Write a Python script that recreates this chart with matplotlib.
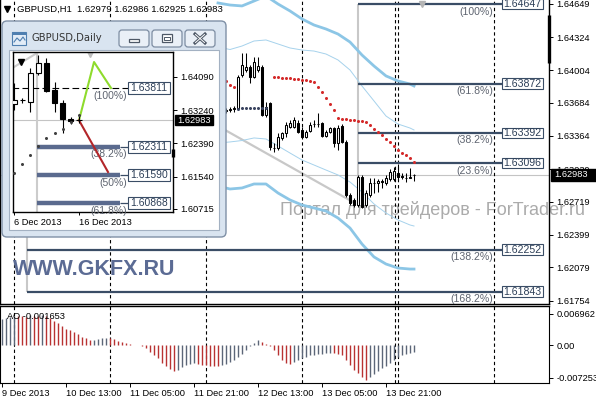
import matplotlib
matplotlib.use("Agg")
import matplotlib.pyplot as plt
import matplotlib.transforms as mtransforms
from matplotlib.patches import Rectangle, FancyBboxPatch
from matplotlib.lines import Line2D

plt.rcParams["font.family"] = ["Liberation Sans", "DejaVu Sans"]

# ---------------- GBPUSD H1 candles (bar index 56..103) ----------------
h1_first = 56
h1_open = [1.63606, 1.63618, 1.63628, 1.63631, 1.63956, 1.64005, 1.64037, 1.63934, 1.64005, 1.64037,
           1.63566, 1.63680, 1.63241, 1.63241, 1.63339, 1.63387, 1.63446, 1.63452, 1.63491, 1.63420,
           1.63348, 1.63413, 1.63474, 1.63482, 1.63491, 1.63361, 1.63403, 1.63436, 1.63290, 1.63459,
           1.63305, 1.62785, 1.62737, 1.62688, 1.62964, 1.62688, 1.62785, 1.62900, 1.62900, 1.62919,
           1.62900, 1.62939, 1.62939, 1.63003, 1.62971, 1.62955, 1.62950, 1.62979]
h1_high = [1.63631, 1.63644, 1.63654, 1.63956, 1.64168, 1.64168, 1.64054, 1.64135, 1.64135, 1.64054,
           1.63696, 1.63696, 1.63290, 1.63387, 1.63403, 1.63501, 1.63517, 1.63549, 1.63517, 1.63452,
           1.63420, 1.63501, 1.63517, 1.63583, 1.63501, 1.63420, 1.63452, 1.63452, 1.63468, 1.63478,
           1.63322, 1.62805, 1.62756, 1.62980, 1.62980, 1.62834, 1.62948, 1.62948, 1.62939, 1.62939,
           1.62980, 1.63036, 1.63062, 1.63088, 1.62997, 1.62997, 1.63046, 1.62986]
h1_low = [1.63583, 1.63595, 1.63598, 1.63615, 1.63940, 1.63988, 1.63875, 1.63924, 1.63988, 1.63556,
          1.63549, 1.63224, 1.63208, 1.63224, 1.63322, 1.63354, 1.63436, 1.63436, 1.63387, 1.63339,
          1.63339, 1.63403, 1.63452, 1.63452, 1.63348, 1.63348, 1.63395, 1.63257, 1.63224, 1.63290,
          1.62769, 1.62688, 1.62668, 1.62668, 1.62659, 1.62668, 1.62769, 1.62802, 1.62817, 1.62854,
          1.62883, 1.62925, 1.62925, 1.62932, 1.62939, 1.62915, 1.62948, 1.62925]
h1_close = [1.63610, 1.63622, 1.63633, 1.63940, 1.64054, 1.64037, 1.63934, 1.64086, 1.64044, 1.63566,
            1.63647, 1.63257, 1.63245, 1.63354, 1.63387, 1.63468, 1.63485, 1.63517, 1.63403, 1.63354,
            1.63403, 1.63468, 1.63482, 1.63476, 1.63361, 1.63403, 1.63436, 1.63290, 1.63436, 1.63305,
            1.62785, 1.62704, 1.62688, 1.62964, 1.62668, 1.62802, 1.62900, 1.62906, 1.62925, 1.62915,
            1.62948, 1.63013, 1.63023, 1.62964, 1.62965, 1.62948, 1.62960, 1.62983]
last_bid = 1.62983

# Parabolic SAR dots
sar_above_idx = [56, 57, 58] + list(range(68, 104))
sar_above = [1.63900, 1.63859, 1.63836,
             1.63934, 1.63932, 1.63929, 1.63926, 1.63923, 1.63919, 1.63915, 1.63910, 1.63905, 1.63898, 1.63888,
             1.63839, 1.63786, 1.63732, 1.63673, 1.63615,
             1.63534, 1.63529, 1.63525, 1.63520, 1.63515, 1.63510, 1.63505, 1.63500,
             1.63468, 1.63434, 1.63400, 1.63366, 1.63332, 1.63298, 1.63264, 1.63229, 1.63200, 1.63171,
             1.63142, 1.63110]
sar_below_idx = list(range(59, 67))
sar_below = [1.63628, 1.63630, 1.63631, 1.63631, 1.63632, 1.63633, 1.63633, 1.63634]

# channel bands
band_idx = [54, 57, 60, 63, 66, 69, 72, 75, 78, 81, 84, 87, 90, 93, 96, 99, 102, 103]
band_outer_hi = [1.64659, 1.64639, 1.64630, 1.64678, 1.64727, 1.64649, 1.64581, 1.64503, 1.64444,
                 1.64405, 1.64356, 1.64278, 1.64151, 1.64044, 1.63947, 1.63898, 1.63868, 1.63849]
band_inner_hi = [1.64229, 1.64205, 1.64239, 1.64288, 1.64298, 1.64259, 1.64220, 1.64200, 1.64190,
                 1.64161, 1.64103, 1.64005, 1.63849, 1.63703, 1.63556, 1.63478, 1.63439, 1.63420]
band_inner_lo = [1.63293, 1.63303, 1.63317, 1.63342, 1.63332, 1.63264, 1.63195, 1.63127, 1.63078,
                 1.63029, 1.62981, 1.62912, 1.62815, 1.62698, 1.62610, 1.62542, 1.62493, 1.62483]
band_outer_lo = [1.62873, 1.62844, 1.62854, 1.62893, 1.62893, 1.62805, 1.62737, 1.62688, 1.62659,
                 1.62629, 1.62561, 1.62463, 1.62307, 1.62181, 1.62112, 1.62073, 1.62063, 1.62063]

trend_x = [45, 87.75]
trend_y = [1.63656, 1.62717]

# Fibonacci levels on H1
fib_upper = [1.64647, 1.63872, 1.63392, 1.63096]
fib_upper_pct = ["(100%)", "(61.8%)", "(38.2%)", "(23.6%)"]
fib_lower = [1.62252, 1.61843]
fib_lower_pct = ["(138.2%)", "(168.2%)"]
fib_upper_start, fib_lower_start, fib_end = 89, 6.25, 125

separators = [3, 27, 51, 75, 98.2, 99.1, 123]

main_ticks = [1.64649, 1.64324, 1.64004, 1.63684, 1.63364, 1.63039, 1.62719, 1.62399, 1.62079, 1.61754]
time_pos = [0, 16, 32, 48, 64, 80, 96]
time_labels = ["9 Dec 2013", "10 Dec 13:00", "11 Dec 05:00", "11 Dec 21:00",
               "12 Dec 13:00", "13 Dec 05:00", "13 Dec 21:00"]

# Awesome Oscillator
ao = [0.00585, 0.00593, 0.00615, 0.00652, 0.00645, 0.00637, 0.00630, 0.00659, 0.00652, 0.00645,
      0.00659, 0.00645, 0.00593, 0.00541, 0.00482, 0.00422, 0.00363, 0.00341, 0.00296, 0.00237,
      0.00185, 0.00148, 0.00104, 0.00111, 0.00126, 0.00148, 0.00163, 0.00148, 0.00126, 0.00096,
      0.00074, 0.00044, 0.00022, 0.00007, -0.00004, -0.00015, -0.00074, -0.00148, -0.00222, -0.00296,
      -0.00393, -0.00474, -0.00526, -0.00571, -0.00556, -0.00496, -0.00452, -0.00422, -0.00408, -0.00422,
      -0.00437, -0.00452, -0.00459, -0.00467, -0.00474, -0.00452, -0.00422, -0.00378, -0.00333, -0.00267,
      -0.00193, -0.00111, -0.00030, 0.00044, 0.00104, 0.00074, 0.00030, -0.00022, -0.00111, -0.00222,
      -0.00326, -0.00408, -0.00422, -0.00378, -0.00333, -0.00296, -0.00259, -0.00230, -0.00215, -0.00200,
      -0.00193, -0.00185, -0.00170, -0.00185, -0.00207, -0.00230, -0.00333, -0.00445, -0.00548, -0.00630,
      -0.00711, -0.00778, -0.00719, -0.00645, -0.00578, -0.00519, -0.00459, -0.00400, -0.00333, -0.00274,
      -0.00230, -0.00200, -0.00185, -0.001653]
ao_ticks = [0.006962, 0.0, -0.007253]
ao_tick_labels = ["0.006962", "0.00", "-0.007253"]

# ---------------- GBPUSD Daily (inset window) ----------------
d1_open = [1.63399, 1.63490, 1.63451, 1.64192, 1.64448, 1.63757, 1.63425, 1.63016, 1.62979]
d1_high = [1.63936, 1.63553, 1.64320, 1.64652, 1.64576, 1.63962, 1.63502, 1.63067, 1.63118]
d1_low = [1.63246, 1.63425, 1.63195, 1.64141, 1.63706, 1.63195, 1.62658, 1.62888, 1.62925]
d1_close = [1.63502, 1.63495, 1.64192, 1.64448, 1.63732, 1.63425, 1.63016, 1.62965, 1.62983]
d1_sar = [1.61643, 1.61865, 1.62095, 1.62313, 1.62538, 1.62650, 1.62752, 1.62939, 1.63118]
d1_ticks = [1.64090, 1.63240, 1.62390, 1.61540, 1.60715]
d1_dates = ["6 Dec 2013", "16 Dec 2013"]
d1_date_pos = [0, 8]
d1_fib_top = 1.63811
d1_fib_levels = [1.62311, 1.61590, 1.60868]
d1_fib_pct = ["(38.2%)", "(50%)", "(61.8%)"]
d1_fib_start, d1_fib_end = 2.83, 13.05
d1_up_path_x = [8, 9.85, 11.94]
d1_up_path_y = [1.62983, 1.64473, 1.63808]
d1_dn_path_x = [8, 11.57]
d1_dn_path_y = [1.62983, 1.61661]
d1_gray_x = [0, 2.83]
d1_gray_y = [1.64345, 1.64703]

# ---------------- figure ----------------
W, H = 596, 400
fig = plt.figure(figsize=(W / 100, H / 100), dpi=100)
fig.patch.set_facecolor("white")
SCREEN = mtransforms.IdentityTransform()

FIB_C = "#3a4d66"
PCT_C = "#5e6470"
FS = 6.7


def frac_rect(x0, y0, x1, y1):
    return [x0 / W, 1 - y1 / H, (x1 - x0) / W, (y1 - y0) / H]


def scr_box(x0, y0, x1, y1, r=0, z=8, **kw):
    p = FancyBboxPatch((x0, H - y1), x1 - x0, y1 - y0,
                       boxstyle=f"round,pad=0,rounding_size={r}" if r else "square,pad=0",
                       transform=SCREEN, zorder=z, **kw)
    fig.add_artist(p)
    return p


def scr_line(xs, ys, z=9, **kw):
    ln = Line2D(xs, [H - y for y in ys], transform=SCREEN, zorder=z, **kw)
    fig.add_artist(ln)


def candles(ax, xs, o, h, l, c, width, lw, z=4):
    for x, oo, hh, ll, cc in zip(xs, o, h, l, c):
        ax.vlines(x, ll, hh, color="black", lw=lw, zorder=z)
        lo, hi = min(oo, cc), max(oo, cc)
        face = "white" if cc >= oo else "black"
        ax.add_patch(Rectangle((x - width / 2, lo), width, hi - lo, facecolor=face,
                               edgecolor="black", lw=lw, zorder=z + 0.5))


def value_box(ax, x0, x1, y, half_h, text, fs, z=7):
    ax.add_patch(Rectangle((x0, y - half_h), x1 - x0, 2 * half_h, facecolor="white",
                           edgecolor=FIB_C, lw=0.8, zorder=z, clip_on=False))
    ax.text((x0 + x1) / 2, y, text, ha="center", va="center", fontsize=fs,
            color="#2c3e57", zorder=z + 0.1, clip_on=False)


# ---------------- main H1 panel ----------------
ax = fig.add_axes(frac_rect(0, 0, 549, 304))
ax.set_xlim(-0.5, 136.75)
ax.set_ylim(1.61722, 1.64688)
ax.spines["top"].set_visible(False)
for s in ("left", "right", "bottom"):
    ax.spines[s].set_linewidth(1.0)
ax.yaxis.tick_right()
ax.set_yticks(main_ticks)
ax.set_yticklabels([f"{v:.5f}" for v in main_ticks])
ax.tick_params(axis="y", direction="out", length=3, width=0.7, pad=2.5, labelsize=FS)
ax.set_xticks([])

ax.text(280 / 549, 1.64688 - 215 / 10249, "Портал для трейдеров - ForTrader.ru",
        transform=mtransforms.blended_transform_factory(ax.transAxes, ax.transData),
        fontsize=13, color="#ababab", ha="left", va="baseline", zorder=1, clip_on=False)

for s in separators:
    ax.axvline(s, color="black", lw=0.8, ls=(0, (3, 2.5)), zorder=2)
ax.axhline(last_bid, color="#c4c4c4", lw=0.8, zorder=1.5)

ax.plot(band_idx, band_outer_hi, color="#8cc6e6", lw=2.0, zorder=2)
ax.plot(band_idx, band_outer_lo, color="#8cc6e6", lw=2.0, zorder=2)
ax.plot(band_idx, band_inner_hi, color="#a6d2ec", lw=0.7, zorder=2)
ax.plot(band_idx, band_inner_lo, color="#a6d2ec", lw=0.7, zorder=2)
ax.plot(trend_x, trend_y, color="#c8c8c8", lw=1.6, zorder=1.8)

ax.vlines(fib_upper_start, 1.62737, fib_upper[0], color="#c8c8c8", lw=1.5, zorder=1.8)
ax.vlines(fib_lower_start, fib_lower[1], fib_upper[3], color="#c8c8c8", lw=1.5, zorder=1.8)
ax.hlines(fib_upper, fib_upper_start, fib_end, color=FIB_C, lw=1.6, zorder=3)
ax.hlines(fib_lower, fib_lower_start, fib_end, color=FIB_C, lw=1.6, zorder=3)
ax.plot(105, fib_upper[0], marker="v", ms=4, color="#b5b5b5", zorder=3.5)
for lvl, pct in list(zip(fib_upper, fib_upper_pct)) + list(zip(fib_lower, fib_lower_pct)):
    ax.annotate(pct, xy=(122.9, lvl), xytext=(0, -5.3), textcoords="offset points",
                ha="right", va="center", fontsize=7.6, color=PCT_C, zorder=3.5)
    value_box(ax, fib_end, 135.25, lvl, 5.2 / 10249, f"{lvl:.5f}", 7.6)

candles(ax, range(h1_first, h1_first + len(h1_open)), h1_open, h1_high, h1_low, h1_close,
        width=0.72, lw=0.75)
ax.plot(sar_above_idx, sar_above, "o", ms=2.2, color="#d42a2a", mec="none", zorder=6)
ax.plot(sar_below_idx, sar_below, "o", ms=2.2, color="#3a4460", mec="none", zorder=6)

blend = mtransforms.blended_transform_factory(ax.transAxes, ax.transData)
ax.add_patch(Rectangle((1.0035, last_bid - 6 / 10249), 45 / 549, 12 / 10249, transform=blend,
                       facecolor="black", edgecolor="black", clip_on=False, zorder=8))
ax.text(1.0035 + 3 / 549, last_bid, f"{last_bid:.5f}", transform=blend, color="white",
        fontsize=FS, ha="left", va="center", zorder=9, clip_on=False)
ax.plot([1.0, 1.0], [1.64542, 1.64073], transform=blend, color="black", lw=2.4,
        solid_capstyle="butt", clip_on=False, zorder=8)

# ---------------- AO panel ----------------
aox = fig.add_axes(frac_rect(0, 306, 549, 383))
aox.set_xlim(-0.5, 136.75)
aox.set_ylim(-0.00844, 0.00867)
ao_colors = ["#5c6678" if i == 0 or ao[i] >= ao[i - 1] else "#b83232" for i in range(len(ao))]
aox.vlines(range(len(ao)), 0, ao, colors=ao_colors, lw=1.0, zorder=3)
for s in separators:
    aox.axvline(s, color="black", lw=0.8, ls=(0, (3, 2.5)), zorder=2)
aox.spines["top"].set_linewidth(1.0)
aox.yaxis.tick_right()
aox.set_yticks(ao_ticks)
aox.set_yticklabels(ao_tick_labels)
aox.tick_params(axis="y", direction="out", length=3, width=0.7, pad=2.5, labelsize=FS)
aox.set_xticks(time_pos)
aox.set_xticklabels(time_labels)
aox.tick_params(axis="x", direction="out", length=3, width=0.7, pad=1.5, labelsize=FS)
for lbl in aox.get_xticklabels():
    lbl.set_horizontalalignment("left")
aox.text(0.012, 0.87, f"AO {ao[-1]:.6f}", transform=aox.transAxes, fontsize=FS,
         va="center", ha="left", zorder=5)

# ---------------- header text of the H1 chart ----------------
fig.add_artist(Line2D([7], [H - 9], marker="v", ms=4, color="black", transform=SCREEN, zorder=4))
fig.text(17 / W, 1 - 9 / H, "GBPUSD,H1  1.62979 1.62986 1.62925 1.62983",
         fontsize=6.8, va="center", ha="left", zorder=4)
fig.text(13 / W, 1 - 275 / H, "WWW.GKFX.RU", fontsize=15.5, fontweight="bold",
         color="#5b6b94", va="baseline", ha="left", zorder=4)

# ---------------- Daily chart window ----------------
scr_box(2, 21, 226, 237, r=5, z=8, facecolor="#d9e4f0", edgecolor="#7f90a6", lw=1)
scr_box(9, 50, 219, 230, z=8.2, facecolor="white", edgecolor="#a3b1c2", lw=0.8)
# title bar icon
scr_box(12, 32, 26, 45, z=9, facecolor="#e2ecf7", edgecolor="#4f7fb0", lw=0.8)
scr_box(12, 32, 26, 35, z=9.1, facecolor="#4f7fb0", edgecolor="none")
scr_line([14, 17, 20, 23, 25], [42, 38, 41, 37, 40], z=9.2, color="#4f7fb0", lw=0.8)
fig.text(32 / W, 1 - 38 / H, "GBPUSD,Daily", fontsize=7.2, family="DejaVu Sans",
         color="#333333", va="center", ha="left", zorder=9)
# caption buttons
for bx0, bx1 in ((119, 149), (152, 182), (185, 215)):
    scr_box(bx0, 30, bx1, 47, r=3, z=9, facecolor="#eaf0f7", edgecolor="#7d8da2", lw=0.9)
scr_box(129, 39, 139, 42, z=9.2, facecolor="white", edgecolor="#4d5866", lw=0.9)
scr_box(162, 34, 172, 42, z=9.2, facecolor="white", edgecolor="#4d5866", lw=0.9)
scr_box(164, 37, 170, 40, z=9.3, facecolor="white", edgecolor="#4d5866", lw=0.7)
scr_line([195, 205], [34, 43], z=9.2, color="#4d5866", lw=2.2)
scr_line([195, 205], [43, 34], z=9.2, color="#4d5866", lw=2.2)
scr_line([195.5, 204.5], [34.5, 42.5], z=9.3, color="white", lw=0.7)
scr_line([195.5, 204.5], [42.5, 34.5], z=9.3, color="white", lw=0.7)

inax = fig.add_axes(frac_rect(13, 52, 173, 212), zorder=10)
inax.set_facecolor("white")
inax.set_xlim(-0.123, 19.57)
inax.set_ylim(1.60638, 1.64729)
for s in inax.spines.values():
    s.set_linewidth(1.0)
inax.yaxis.tick_right()
inax.set_yticks(d1_ticks)
inax.set_yticklabels([f"{v:.5f}" for v in d1_ticks])
inax.tick_params(axis="y", direction="out", length=3, width=0.7, pad=2.5, labelsize=FS)
inax.set_xticks(d1_date_pos)
inax.set_xticklabels(d1_dates)
inax.tick_params(axis="x", direction="out", length=2, width=0.7, pad=2.5, labelsize=FS)
for lbl in inax.get_xticklabels():
    lbl.set_horizontalalignment("left")

inax.axhline(last_bid, color="#c4c4c4", lw=0.8, zorder=1)
inax.axvline(d1_fib_start, color="#cccccc", lw=1.5, zorder=1)
inax.plot(d1_gray_x, d1_gray_y, color="#cccccc", lw=1.5, zorder=1)
inax.plot(9.35, 1.64690, marker="v", ms=5, color="#bdbdbd", zorder=1.5)
inax.plot([0.05], [0.9375], marker="v", ms=4, color="black", transform=inax.transAxes, zorder=6)

inax.hlines(d1_fib_top, -0.2, 14.03, color="black", lw=0.8, ls=(0, (6, 3)), zorder=2)
inax.hlines(d1_fib_levels, d1_fib_start, d1_fib_end, color="#5a6a8e", lw=3.2, zorder=2.5)
inax.hlines(d1_fib_levels, d1_fib_end, 14.03, color=FIB_C, lw=0.9, zorder=2.5)
for lvl, pct in zip([d1_fib_top] + d1_fib_levels, ["(100%)"] + d1_fib_pct):
    inax.annotate(pct, xy=(13.9, lvl), xytext=(0, -5.6), textcoords="offset points",
                  ha="right", va="center", fontsize=7.5, color=PCT_C, zorder=2.6,
                  annotation_clip=False)
    value_box(inax, 14.03, 19.2, lvl, 6 / 3911, f"{lvl:.5f}", 7.5)

inax.plot(d1_up_path_x, d1_up_path_y, color="#8edb2c", lw=1.5, zorder=3)
inax.plot(d1_dn_path_x, d1_dn_path_y, color="#b3262a", lw=1.5, zorder=3)
candles(inax, range(len(d1_open)), d1_open, d1_high, d1_low, d1_close, width=0.62, lw=0.8)
inax.plot(range(len(d1_sar)), d1_sar, "o", ms=2.2, color="#404040", mec="none", zorder=6)

iblend = mtransforms.blended_transform_factory(inax.transAxes, inax.transData)
inax.add_patch(Rectangle((1.0125, last_bid - 5 / 3911), 0.2375, 10 / 3911, transform=iblend,
                         facecolor="black", edgecolor="black", clip_on=False, zorder=8))
inax.text(1.0125 + 2 / 160, last_bid, f"{last_bid:.5f}", transform=iblend, color="white",
          fontsize=FS, ha="left", va="center", zorder=9, clip_on=False)
inax.plot([1.0, 1.0], [1.62249, 1.62044], transform=iblend, color="black", lw=2.4,
          solid_capstyle="butt", clip_on=False, zorder=8)

fig.savefig("out.png", dpi=100, facecolor="white")
